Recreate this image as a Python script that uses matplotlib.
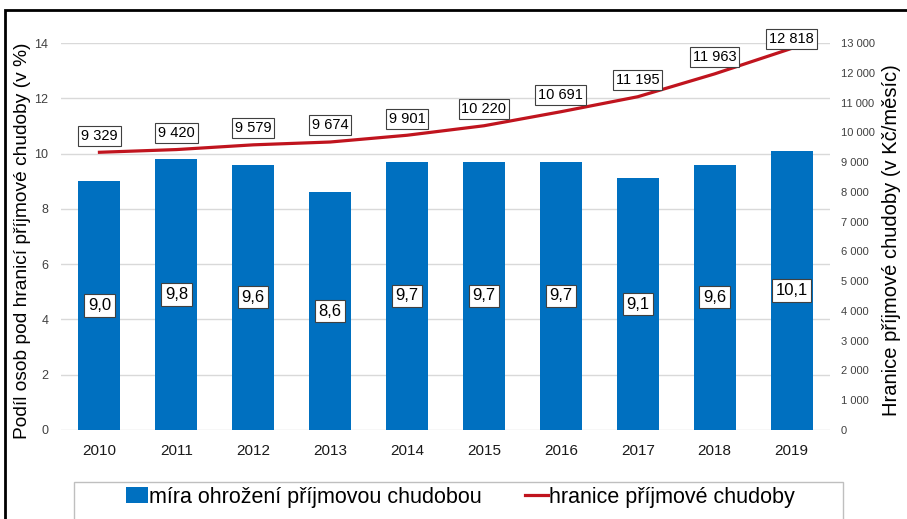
import matplotlib
matplotlib.use('Agg')
import matplotlib.pyplot as plt
from matplotlib.patches import Rectangle, Patch
from matplotlib.lines import Line2D

plt.rcParams['font.family'] = ['Liberation Sans', 'DejaVu Sans']

# --- data ---
years = ['2010', '2011', '2012', '2013', '2014', '2015', '2016', '2017', '2018', '2019']
rate = [9.0, 9.8, 9.6, 8.6, 9.7, 9.7, 9.7, 9.1, 9.6, 10.1]
threshold = [9329, 9420, 9579, 9674, 9901, 10220, 10691, 11195, 11963, 12818]
left_ticks = [0, 2, 4, 6, 8, 10, 12, 14]
right_ticks = list(range(0, 13001, 1000))

BLUE = '#0070C0'
RED = '#C0141E'
W, H = 907, 519

fig = plt.figure(figsize=(W / 100, H / 100), dpi=100)
ax = fig.add_axes([61 / W, 89 / H, 769 / W, 387 / H])
ax2 = ax.twinx()

x = list(range(len(years)))
ax.bar(x, rate, width=0.545, color=BLUE, zorder=2)
ax.set_ylim(0, 14)
ax.set_xlim(-0.5, len(years) - 0.5)
ax.set_yticks(left_ticks)
ax.set_yticklabels([str(t) for t in left_ticks], fontsize=9, color='#404040')
ax.set_xticks(x)
ax.set_xticklabels(years, fontsize=11, color='#1a1a1a')
ax.grid(axis='y', color='#d9d9d9', linewidth=1, zorder=0)
ax.set_axisbelow(True)
ax.tick_params(axis='x', length=0, pad=10)
ax.tick_params(axis='y', length=0, pad=9)
for s in ax.spines.values():
    s.set_visible(False)

# bar value labels in the middle of each bar
for xi, v in zip(x, rate):
    ax.text(xi, v / 2, f'{v:.1f}'.replace('.', ','), ha='center', va='center',
            fontsize=12, zorder=4,
            bbox=dict(boxstyle='square,pad=0.22', fc='white', ec='#404040', lw=0.8))

ax2.plot(x, threshold, color=RED, linewidth=2.3, zorder=3)
ax2.set_ylim(0, 13000)
ax2.set_yticks(right_ticks)
ax2.set_yticklabels([f'{t:,}'.replace(',', ' ') for t in right_ticks], fontsize=8, color='#404040')
ax2.tick_params(length=0, pad=8)
for s in ax2.spines.values():
    s.set_visible(False)

# line value labels above each point (last one pushed down to stay inside)
for i, (xi, v) in enumerate(zip(x, threshold)):
    dy = 6.5 if i == len(x) - 1 else 12
    ax2.annotate(f'{v:,}'.replace(',', ' '), (xi, v), xytext=(0, dy), textcoords='offset points',
                 ha='center', va='center', fontsize=10.5, zorder=5,
                 bbox=dict(boxstyle='square,pad=0.2', fc='white', ec='#404040', lw=0.8))

ax.set_ylabel('Podíl osob pod hranicí příjmové chudoby (v %)', fontsize=13.8)
ax.yaxis.set_label_coords(-0.039, 0.49)
ax2.set_ylabel('Hranice příjmové chudoby (v Kč/měsíc)', fontsize=14.5)
ax2.yaxis.set_label_coords(1.0675, 0.49)

handles = [Patch(facecolor=BLUE), Line2D([0], [0], color=RED, lw=2.3)]
fig.legend(handles, ['míra ohrožení příjmovou chudobou', 'hranice příjmové chudoby'],
           loc='center', bbox_to_anchor=(460 / W, 1 - 497 / H), ncol=2, fontsize=15.5,
           frameon=False, handlelength=1.05, handleheight=0.8, handletextpad=0.05,
           columnspacing=2.0)

# legend frame and outer chart frame
fig.patches.append(Rectangle((74 / W, -0.05), 769 / W, 0.05 + 37 / H, transform=fig.transFigure,
                             fill=False, edgecolor='#bfbfbf', linewidth=1, zorder=9))
fig.patches.append(Rectangle((5 / W, -0.05), 1.2, 1 - 10 / H + 0.05, transform=fig.transFigure,
                             fill=False, edgecolor='black', linewidth=2, zorder=10))

fig.savefig('out.png', dpi=100)
